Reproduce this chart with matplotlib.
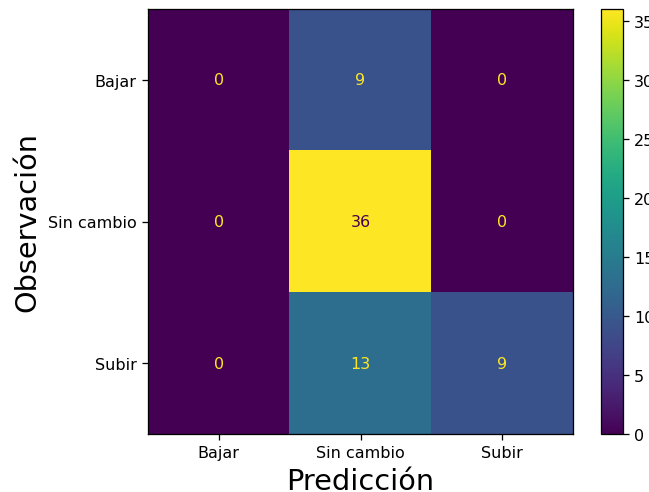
import numpy as np
import matplotlib
matplotlib.use("Agg")
import matplotlib.pyplot as plt

labels = ["Bajar", "Sin cambio", "Subir"]
cm = np.array([[0, 9, 0],
               [0, 36, 0],
               [0, 13, 9]])

DPI = 115
fig = plt.figure(figsize=(649/DPI, 493/DPI), dpi=DPI)
ax = fig.add_axes([148/649, 58/493, 425/649, 425/493])
cax = fig.add_axes([601/649, 58/493, 22/649, 425/493])

cmap = plt.get_cmap("viridis")
im = ax.imshow(cm, cmap=cmap, interpolation="nearest")
thresh = (cm.max() + cm.min()) / 2.0
for i in range(cm.shape[0]):
    for j in range(cm.shape[1]):
        color = cmap(0.0) if cm[i, j] >= thresh else cmap(1.0)
        ax.text(j, i, str(cm[i, j]), ha="center", va="center", color=color, fontsize=10)

ax.set_xticks(range(len(labels)))
ax.set_xticklabels(labels)
ax.set_yticks(range(len(labels)))
ax.set_yticklabels(labels)
ax.set_xlabel("Predicción", fontsize=18)
ax.set_ylabel("Observación", fontsize=18)
fig.colorbar(im, cax=cax)

fig.savefig("out.png", dpi=DPI)
